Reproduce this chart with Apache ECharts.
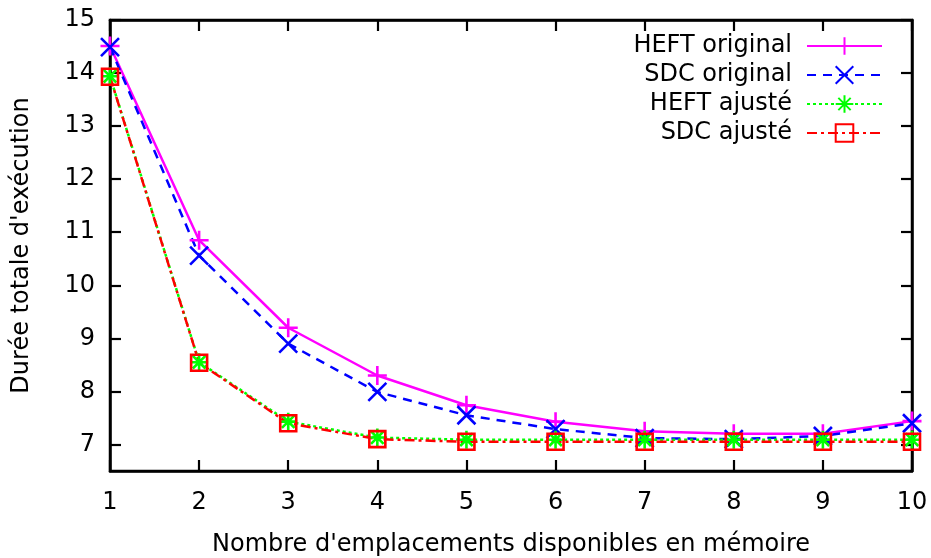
<!DOCTYPE html>
<html>
<head>
<meta charset="utf-8">
<script src="https://cdn.jsdelivr.net/npm/echarts@6/dist/echarts.min.js"></script>
<style>
html,body{margin:0;padding:0;background:#fff;}
#c{width:931px;height:558px;}
</style>
</head>
<body>
<div id="c"></div>
<script>
const xValues = [1, 2, 3, 4, 5, 6, 7, 8, 9, 10];
const heftOriginal = [14.51, 10.85, 9.2, 8.3, 7.74, 7.43, 7.25, 7.2, 7.2, 7.44];
const sdcOriginal = [14.49, 10.56, 8.9, 7.99, 7.55, 7.29, 7.12, 7.1, 7.16, 7.4];
const heftAjuste = [13.94, 8.55, 7.43, 7.13, 7.09, 7.09, 7.09, 7.09, 7.09, 7.09];
const sdcAjuste = [13.93, 8.54, 7.4, 7.1, 7.05, 7.05, 7.05, 7.05, 7.05, 7.05];
const yTicks = [7, 8, 9, 10, 11, 12, 13, 14, 15];
const seriesNames = ['HEFT original', 'SDC original', 'HEFT ajusté', 'SDC ajusté'];
const xTitle = "Nombre d'emplacements disponibles en mémoire";
const yTitle = "Durée totale d'exécution";

const FONT = 'DejaVu Sans';
const FS = 24;
const pairs = arr => xValues.map((x, i) => [x, arr[i]]);

const PLUS = 'path://M0,5 L10,5 M5,0 L5,10';
const CROSS = 'path://M0,0 L10,10 M10,0 L0,10';
const STAR = 'path://M0,5 L10,5 M5,0 L5,10 M1.5,1.5 L8.5,8.5 M8.5,1.5 L1.5,8.5';
const SQUARE = 'path://M0,0 L10,0 L10,10 L0,10 Z';

function mk(name, data, color, type, symbol, size) {
  return {
    name, type: 'line', data: pairs(data),
    symbol, symbolSize: size, showSymbol: true,
    lineStyle: { color, width: 2.5, type },
    itemStyle: { color: symbol === SQUARE ? 'rgba(0,0,0,0)' : color, borderColor: color, borderWidth: 2.6 },
    emphasis: { disabled: true },
    animation: false
  };
}

const chart = echarts.init(document.getElementById('c'), null, { renderer: 'canvas' });
const axisLine = { show: true, lineStyle: { color: '#000', width: 2.5 } };
const tick = { show: true, inside: true, length: 11, lineStyle: { color: '#000', width: 2.2 } };
chart.setOption({
  backgroundColor: '#fff',
  animation: false,
  textStyle: { fontFamily: FONT },
  grid: { left: 110, right: 19, top: 20, bottom: 87, show: true, borderColor: '#000', borderWidth: 2.5, containLabel: false, outerBoundsMode: 'none' },
  legend: {
    data: seriesNames,
    orient: 'vertical', right: 43, top: 29, align: 'right',
    itemWidth: 75, itemHeight: 22, itemGap: 5,
    textStyle: { fontFamily: FONT, fontSize: FS, color: '#000', padding: [0, 10, 0, 0] },
    selectedMode: false
  },
  xAxis: [{
    type: 'value', min: 1, max: 10, interval: 1, position: 'bottom',
    axisLine, axisTick: tick, splitLine: { show: false },
    axisLabel: { fontFamily: FONT, fontSize: FS, color: '#000', margin: 20 },
    name: xTitle, nameLocation: 'middle', nameGap: 62,
    nameTextStyle: { fontFamily: FONT, fontSize: FS, color: '#000' }
  }, {
    type: 'value', min: 1, max: 10, interval: 1, position: 'top',
    axisLine, axisTick: tick, splitLine: { show: false }, axisLabel: { show: false }
  }],
  yAxis: [{
    type: 'value', min: 6.5, max: 15, position: 'left',
    axisLine, splitLine: { show: false },
    axisTick: Object.assign({ customValues: yTicks }, tick),
    axisLabel: { customValues: yTicks, fontFamily: FONT, fontSize: FS, color: '#000', margin: 15 },
    name: yTitle, nameLocation: 'middle', nameGap: 76,
    nameTextStyle: { fontFamily: FONT, fontSize: FS, color: '#000' }
  }, {
    type: 'value', min: 6.5, max: 15, position: 'right',
    axisLine, splitLine: { show: false },
    axisTick: Object.assign({ customValues: yTicks }, tick),
    axisLabel: { show: false }
  }],
  series: [
    mk(seriesNames[0], heftOriginal, '#ff00ff', 'solid', PLUS, 19),
    mk(seriesNames[1], sdcOriginal, '#0000ff', [9, 7], CROSS, 18),
    mk(seriesNames[2], heftAjuste, '#00ff00', [3, 3], STAR, 18),
    mk(seriesNames[3], sdcAjuste, '#ff0000', [10, 4, 3, 4], SQUARE, 16)
  ]
});
</script>
</body>
</html>
